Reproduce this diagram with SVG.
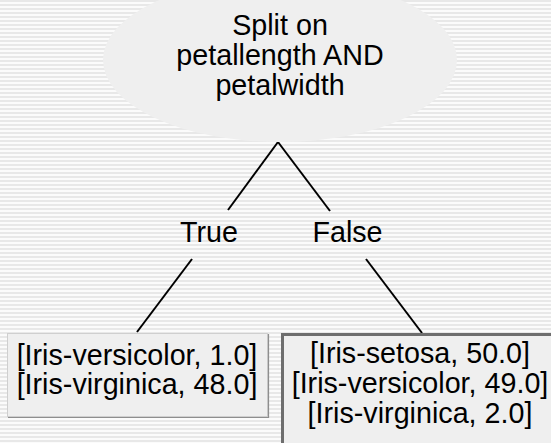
<svg xmlns="http://www.w3.org/2000/svg" width="551" height="443" viewBox="0 0 551 443">
  <defs>
    <pattern id="stripes" x="0" y="0" width="8" height="4" patternUnits="userSpaceOnUse">
      <rect x="0" y="0" width="8" height="4" fill="#e8e8e8"/>
      <rect x="0" y="2" width="8" height="2" fill="#fbfbfb"/>
    </pattern>
  </defs>
  <style>
    text { font-family: "Liberation Sans", Arial, sans-serif; font-size: 28.7px; fill: #000; text-anchor: middle; }
    .edge { stroke: #000; stroke-width: 2; fill: none; }
    .nodefill { fill: #efefef; }
  </style>
  <rect x="0" y="0" width="551" height="443" fill="url(#stripes)"/>

  <g id="connectors">
    <line class="edge" x1="278" y1="142" x2="228" y2="210"/>
    <line class="edge" x1="192" y1="259" x2="137" y2="332"/>
    <line class="edge" x1="278" y1="142" x2="330" y2="211"/>
    <line class="edge" x1="366" y1="259" x2="422" y2="333"/>
    <text x="209" y="242">True</text>
    <text x="347.5" y="242">False</text>
  </g>

  <g id="root">
    <ellipse class="nodefill" cx="280" cy="60" rx="177" ry="82"/>
    <text x="280" y="35">Split on</text>
    <text x="280" y="65">petallength AND</text>
    <text x="280" y="95">petalwidth</text>
  </g>

  <g id="leaf-true">
    <rect class="nodefill" x="7.5" y="333.5" width="260" height="83" stroke="#cfcfcf" stroke-width="1"/>
    <path d="M8 417.5 H268.5 V334" fill="none" stroke="#8e8e8e" stroke-width="1.2"/>
    <text x="137" y="365">[Iris-versicolor, 1.0]</text>
    <text x="137" y="394">[Iris-virginica, 48.0]</text>
  </g>

  <g id="leaf-false">
    <rect class="nodefill" x="282.5" y="334.5" width="290" height="130" stroke="#6e6e6e" stroke-width="3"/>
    <text x="420" y="363">[Iris-setosa, 50.0]</text>
    <text x="420" y="393">[Iris-versicolor, 49.0]</text>
    <text x="420" y="423">[Iris-virginica, 2.0]</text>
  </g>
</svg>
